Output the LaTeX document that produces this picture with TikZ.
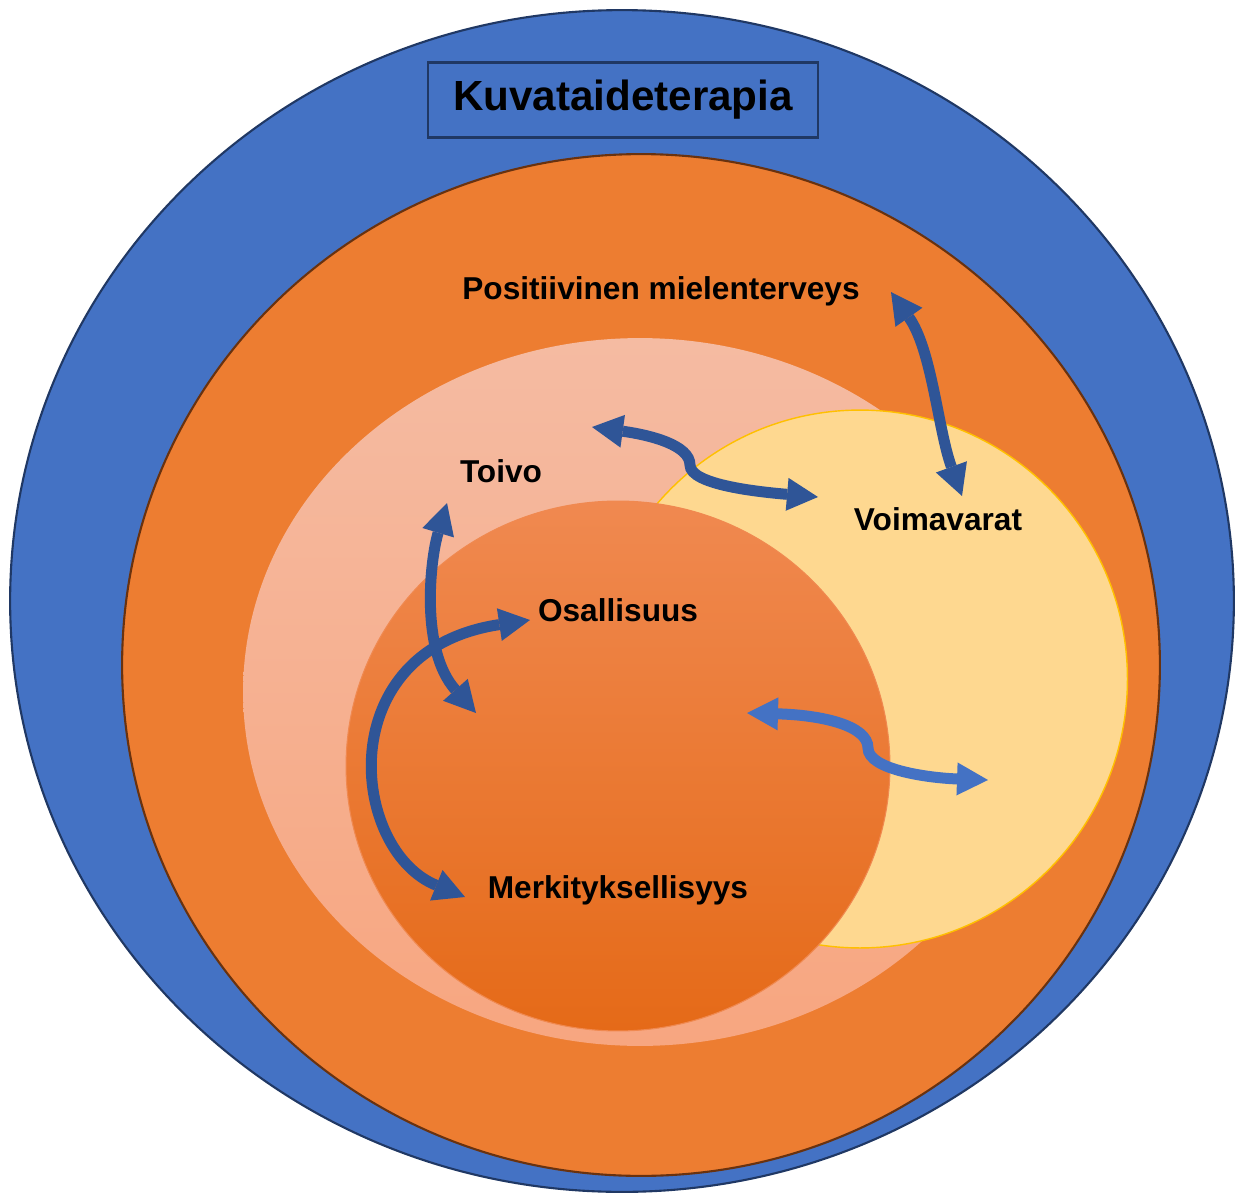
\documentclass[tikz,border=0pt]{standalone}
\usepackage{fontspec}
\setmainfont{Liberation Sans}
\usetikzlibrary{arrows.meta}
\definecolor{ringblue}{RGB}{68,114,196}
\definecolor{ringnavy}{RGB}{32,56,100}
\definecolor{ringorange}{RGB}{237,125,49}
\definecolor{ringbrown}{RGB}{105,50,15}
\definecolor{pinktop}{RGB}{245,187,162}
\definecolor{pinkbottom}{RGB}{247,166,128}
\definecolor{yellowfill}{RGB}{254,216,144}
\definecolor{yellowline}{RGB}{255,192,0}
\definecolor{coretop}{RGB}{240,137,80}
\definecolor{coremid}{RGB}{245,126,40}
\definecolor{corebottom}{RGB}{229,106,24}
\definecolor{linkblue}{RGB}{47,85,151}

\begin{document}
\begin{tikzpicture}[x=0.02cm,y=-0.02cm]
	\tikzstyle{term}=[font=\fontsize{18}{20}\selectfont\bfseries, anchor=base, inner sep=0pt]
	\tikzstyle{title}=[draw=ringnavy, line width=1.2pt, fill=ringblue, minimum width=7.8cm, minimum height=1.5cm, font=\fontsize{24}{28}\selectfont\bfseries]
	\tikzstyle{twoway}=[line width=0.22cm, draw=linkblue, {Triangle[length=0.62cm, width=0.66cm, line width=0pt]}-{Triangle[length=0.62cm, width=0.66cm, line width=0pt]}]
	
	\useasboundingbox (0,0) rectangle (1237,1193);
	
	% Draw rings
	\draw[ringnavy, fill=ringblue, line width=1.2pt] (622,601) ellipse [x radius=12.24cm, y radius=11.82cm];
	\draw[ringbrown, fill=ringorange, line width=1.2pt] (641,665) ellipse [x radius=10.38cm, y radius=10.22cm];
	\shade[top color=pinktop, bottom color=pinkbottom] (640,692) ellipse [x radius=7.94cm, y radius=7.08cm];
	\draw[yellowline, fill=yellowfill, line width=0.8pt] (860,679) ellipse [x radius=5.35cm, y radius=5.38cm];
	\path[draw=coretop, line width=0.6pt, top color=coretop, middle color=coremid, bottom color=corebottom] (618,766) ellipse [x radius=5.44cm, y radius=5.30cm];
	
	% Draw labels
	\node[title] (T) at (623,100) {Kuvataideterapia};
	\node[term] (P) at (661,299) {Positiivinen mielenterveys};
	\node[term] (H) at (501,482) {Toivo};
	\node[term] (V) at (938,530) {Voimavarat};
	\node[term] (O) at (618,621) {Osallisuus};
	\node[term] (M) at (618,898) {Merkityksellisyys};
	
	% Arrow ends
	\coordinate (P-end) at (891,292);
	\coordinate (V-top) at (962,496);
	\coordinate (H-right) at (592,427);
	\coordinate (V-left) at (818,497);
	\coordinate (H-low) at (447,503);
	\coordinate (C-in) at (476,713);
	\coordinate (O-left) at (530,620);
	\coordinate (M-left) at (465,897);
	\coordinate (C-mid) at (747,713);
	\coordinate (Y-mid) at (988,780);
	
	% Connect
	\draw[twoway] (P-end) .. controls (932,350) and (938,430) .. (V-top);
	\draw[twoway] (H-right) .. controls (650,435) and (690,445) .. (690,465) .. controls (690,485) and (760,492) .. (V-left);
	\draw[twoway] (H-low) .. controls (430,560) and (420,650) .. (C-in);
	\draw[twoway] (O-left) .. controls (330,650) and (350,850) .. (M-left);
	\draw[twoway, draw=ringblue] (C-mid) .. controls (820,715) and (868,725) .. (868,748) .. controls (868,770) and (930,778) .. (Y-mid);
\end{tikzpicture}
\end{document}
